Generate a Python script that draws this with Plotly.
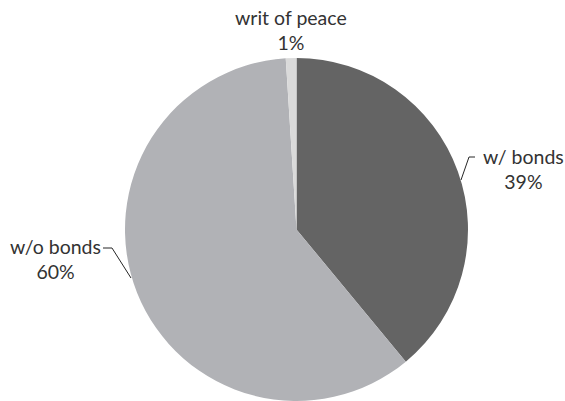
import plotly.graph_objects as go

# Share of cases by bond status
categories = ["w/ bonds", "w/o bonds", "writ of peace"]
values = [39, 60, 1]
colors = ["#646464", "#b1b2b6", "#dadada"]

W, H = 565, 401
CX, CY, R = 296.5, 229.5, 171.5  # pie centre / radius in pixels

def px(x, y):
    """pixel position -> paper coordinates"""
    return x / W, 1 - y / H

total = sum(values)
pcts = [f"{round(v / total * 100)}%" for v in values]

fig = go.Figure(go.Pie(
    labels=categories,
    values=values,
    sort=False,
    direction="clockwise",
    rotation=0,
    marker=dict(colors=colors, line=dict(width=0)),
    textinfo="none",
    hoverinfo="label+percent",
    showlegend=False,
    domain=dict(x=[(CX - R) / W, (CX + R) / W], y=[0, (2 * R) / H]),
))

# label block centres in pixels
label_pos = {
    "w/ bonds": (523, 169),
    "w/o bonds": (55, 259),
    "writ of peace": (291, 29.5),
}
font = dict(family="Lato", size=19.5, color="#333333")
annotations = []
for name, pct in zip(categories, pcts):
    x, y = px(*label_pos[name])
    annotations.append(dict(
        x=x, y=y, xref="paper", yref="paper", text=f"{name}<br>{pct}",
        showarrow=False, xanchor="center", yanchor="middle", align="center",
        font=font,
    ))

# leader lines (pixel polylines)
leaders = [
    [(461, 180), (469, 157), (475, 157)],
    [(103, 248), (112, 248), (131, 278)],
]
shapes = []
for pts in leaders:
    path = ""
    for j, (x, y) in enumerate(pts):
        u, v = px(x, y)
        path += ("M" if j == 0 else "L") + f"{u},{v} "
    shapes.append(dict(type="path", xref="paper", yref="paper", path=path.strip(),
                       line=dict(color="#262626", width=1)))

fig.update_layout(
    width=W, height=H,
    margin=dict(l=0, r=0, t=0, b=0),
    paper_bgcolor="white", plot_bgcolor="white",
    annotations=annotations, shapes=shapes,
)

fig.write_html("out.html")
